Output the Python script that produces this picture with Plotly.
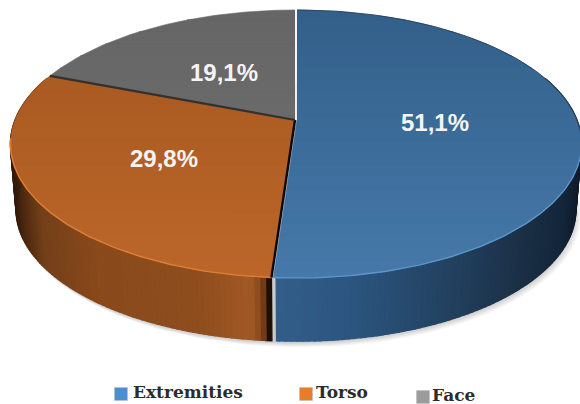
import numpy as np
import plotly.graph_objects as go

categories = ["Extremities", "Torso", "Face"]
values = [51.1, 29.8, 19.1]

legend_colors = ["#4a8fd4", "#e97c28", "#9c9c9c"]
top_colors = [("#33608a", "#4679aa"), ("#a4581f", "#bd662a"), ("#666666", "#717171")]
rim_colors = ["#5c95ca", "#dd7f38", "#777777"]
wall_stops = [
    ([276, 350, 450, 520, 560, 580], ["#335e89", "#2c5680", "#23415f", "#1b3045", "#14263a", "#0d1824"]),
    ([10, 25, 45, 100, 200, 250, 262, 268, 272], ["#241207", "#4c2810", "#74401a", "#8a4a1b", "#8f4e1e", "#a25a26", "#84461c", "#2a1408", "#000000"]),
    ([10, 60], ["#333333", "#444444"]),
]
offsets = [2.0, 0.0, 0.0]
label_radius = [0.5, 0.525, 0.48]
legend_marker_x = [121, 306, 423]
legend_text_x = [133, 316, 432]
legend_y = [392, 392, 395]

CX, CY, A, B, K = 295.0, 120.0, 280.0, 129.7, 0.179
SCALE, DEPTH = 0.98, 67.0


def project(cw_deg, r=1.0):
    t = np.radians(cw_deg)
    s = -np.cos(t) * r  # +1 is the front of the disc
    w = 1 - K * s
    return A * np.sin(t) * r / w, B * s / w


def hex2rgb(c):
    return np.array([int(c[i:i + 2], 16) for i in (1, 3, 5)], float)


def mix(c1, c2, f):
    v = hex2rgb(c1) * (1 - f) + hex2rgb(c2) * f
    return "rgb(%d,%d,%d)" % tuple(v.round())


def clip(poly, y0, y1):
    def half(pts, lim, keep_below):
        out = []
        for i in range(len(pts)):
            p, q = pts[i], pts[(i + 1) % len(pts)]
            ip = (p[1] <= lim) if keep_below else (p[1] >= lim)
            iq = (q[1] <= lim) if keep_below else (q[1] >= lim)
            if ip:
                out.append(p)
            if ip != iq:
                f = (lim - p[1]) / (q[1] - p[1])
                out.append((p[0] + f * (q[0] - p[0]), lim))
        return out
    pts = half(list(poly), y1, True)
    return half(pts, y0, False) if pts else []


fig = go.Figure()


def fill(xs, ys, color, line=None, width=1.3):
    fig.add_trace(go.Scatter(
        x=list(xs) + [xs[0]], y=list(ys) + [ys[0]], mode="lines", fill="toself",
        fillcolor=color, line=dict(color=line or color, width=width),
        hoverinfo="skip", showlegend=False))


# soft shadow under the disc
full = np.linspace(0, 360, 181)
fx, fy = project(full)
for g in range(6, 0, -1):
    fill(CX + g * 0.9 + SCALE * fx * (1 + g * 0.001), CY + DEPTH + g * 0.9 + SCALE * fy,
         "rgba(0,0,0,0.035)", line="rgba(0,0,0,0)", width=0)

# wedge angular spans, clockwise from 12 o'clock, from the values
edges = np.concatenate([[0], np.cumsum(values) / np.sum(values) * 360])

# outer wall strips (the blue wall stops just short of the cut, leaving a thin gap)
wall_ranges = [(70, edges[1] - 0.45), (edges[1], min(edges[2], 290))]
for i, (a0, a1) in enumerate(wall_ranges):
    xs_stop, cs_stop = wall_stops[i]
    rgb = np.array([hex2rgb(c) for c in cs_stop])
    grid = np.arange(a0, a1 + 1e-6, 1.0)
    if grid[-1] < a1:
        grid = np.append(grid, a1)
    pairs = list(zip(grid[:-1], grid[1:]))
    for g0, g1 in pairs:
        x0, y0 = project(g0)
        x1, y1 = project(g1)
        xm = CX + offsets[i] + SCALE * (x0 + x1) / 2
        col = "rgb(%d,%d,%d)" % tuple(np.interp(xm, xs_stop, rgb[:, k]) for k in range(3))
        dx = offsets[i]
        # the line would bleed past the silhouette, so it is inset by half its width
        fill([CX + dx + x0, CX + dx + x1, CX + dx + SCALE * x1, CX + dx + SCALE * x0],
             [CY + y0, CY + y1, CY + DEPTH + SCALE * y1 - 0.6, CY + DEPTH + SCALE * y0 - 0.6], col)

# top faces, shaded in thin horizontal bands
BANDS = np.arange(8, 284, 12.0)
for i in range(3):
    angs = np.linspace(edges[i], edges[i + 1], 90)
    x, y = project(angs)
    poly = [(CX + offsets[i], CY)] + [(CX + offsets[i] + a, CY + b) for a, b in zip(x, y)]
    c0, c1 = top_colors[i]
    for y0 in BANDS:
        part = clip(poly, y0, y0 + 12)
        if len(part) >= 3:
            px, py = zip(*part)
            fill(px, py, mix(c0, c1, (y0 - 8) / 270), width=0.6)

# front rim highlights
for i, (a0, a1) in enumerate([(105, edges[1]), (edges[1], 262)]):
    angs = np.linspace(a0, a1, 80)
    x, y = project(angs)
    fig.add_trace(go.Scatter(x=CX + offsets[i] + x, y=CY + y, mode="lines",
                             line=dict(color=rim_colors[i], width=1.4),
                             hoverinfo="skip", showlegend=False))

# upper-right rim, thin dark edge
angs = np.linspace(0, 95, 60)
x, y = project(angs)
fig.add_trace(go.Scatter(x=CX + 2 + x, y=CY + y, mode="lines", line=dict(color="#22384e", width=0.8),
                         hoverinfo="skip", showlegend=False))

# separators between the wedges
ex, ey = project(edges[1])
fig.add_trace(go.Scatter(x=[CX, CX + ex], y=[CY, CY + ey], mode="lines",
                         line=dict(color="#0d0805", width=2.4), hoverinfo="skip", showlegend=False))
ex, ey = project(edges[2])
fig.add_trace(go.Scatter(x=[CX, CX + ex], y=[CY, CY + ey], mode="lines",
                         line=dict(color="#33302e", width=2.2), hoverinfo="skip", showlegend=False))
fig.add_trace(go.Scatter(x=[CX + 1, CX + 1], y=[CY - 110, CY], mode="lines",
                         line=dict(color="#ffffff", width=1.6), hoverinfo="skip", showlegend=False))

# percentage labels at mid-wedge
for i, v in enumerate(values):
    mid = (edges[i] + edges[i + 1]) / 2
    lx, ly = project(mid, label_radius[i])
    fig.add_annotation(x=CX + lx, y=CY + ly, text=f"<b>{v:.1f}%</b>".replace(".", ","), showarrow=False,
                       font=dict(family="Liberation Sans", size=24, color="#f4f4f4"))

# legend
fig.add_trace(go.Scatter(x=legend_marker_x, y=[v + 2 for v in legend_y], mode="markers",
                         marker=dict(symbol="square", size=13, color=legend_colors,
                                     line=dict(color="#bbbbbb", width=0.5)),
                         hoverinfo="skip", showlegend=False))
for name, tx, ty in zip(categories, legend_text_x, legend_y):
    fig.add_annotation(x=tx, y=ty, xanchor="left", text=f"<b>{name}</b>", showarrow=False,
                       xshift=-2, font=dict(family="DejaVu Serif", size=17, color="#2b2b2b"))

fig.update_layout(
    width=580, height=404, margin=dict(l=0, r=0, t=0, b=0),
    paper_bgcolor="white", plot_bgcolor="white", showlegend=False,
    xaxis=dict(range=[0, 580], visible=False, fixedrange=True),
    yaxis=dict(range=[404, 0], visible=False, fixedrange=True),
)

fig.write_html("out.html", config={"displayModeBar": False},
               post_script="document.body.style.margin='0';document.body.style.overflow='hidden';")
